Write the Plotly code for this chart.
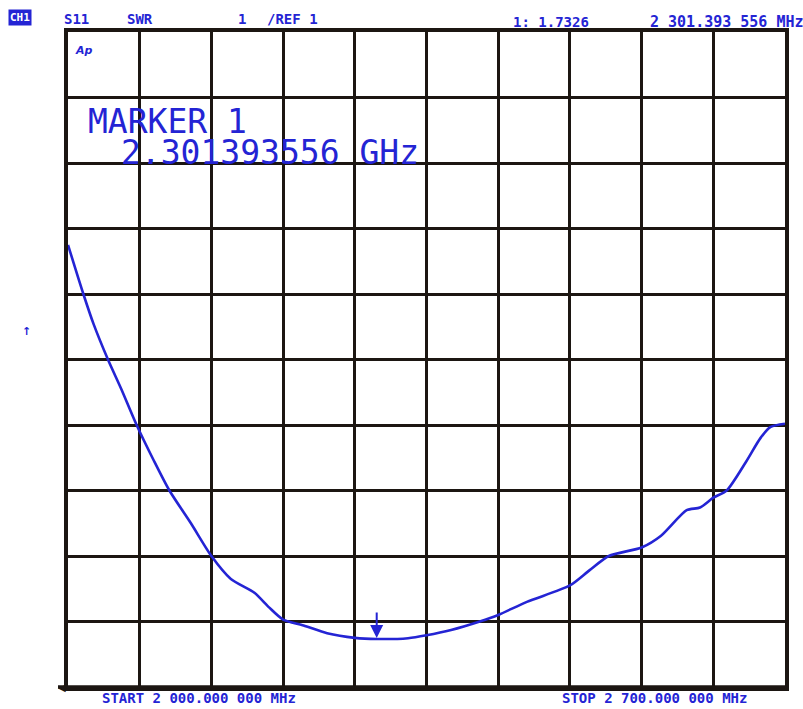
import plotly.graph_objects as go

# ---- data ----
freq_mhz = [2000, 2015, 2025, 2039, 2052, 2067, 2084, 2099, 2120, 2140, 2159,
            2182, 2196, 2210, 2230, 2253, 2280, 2301.393556, 2332, 2350, 2374, 2402,
            2420, 2448, 2490, 2509, 2528, 2560, 2579, 2604, 2617, 2630, 2643, 2662,
            2676, 2686, 2700]
swr = [7.75, 7.0, 6.54, 6.0, 5.55, 5.0, 4.45, 4.0, 3.5, 3.0, 2.65,
       2.44, 2.22, 2.03, 1.94, 1.82, 1.75, 1.7326, 1.745, 1.79, 1.87, 2.0,
       2.1, 2.3, 2.55, 2.78, 3.0, 3.13, 3.31, 3.7, 3.74, 3.89, 4.0, 4.44,
       4.8, 4.97, 5.02]

marker_freq = 2301.393556
marker_swr = 1.7326

start_mhz = 2000
stop_mhz = 2700
ref_swr = 1
scale_per_div = 1
n_div = 10

header_left = ["S11", "SWR", "1", "/REF 1"]
header_marker = "1: 1.7326"
header_freq = "2 301.393 556 MHz"
start_label = "START 2 000.000 000 MHz"
stop_label = "STOP 2 700.000 000 MHz"
marker_title = "MARKER 1"
marker_value = "2.301393556 GHz"

# ---- layout geometry ----
W, H = 803, 709
L, R, T, B = 68, 785, 32, 687
PW, PH = R - L, B - T

def px(xp):
    return (xp - L) / PW

def py(yp):
    return (B - yp) / PH

BLUE = "#2424d4"
GRID = "#1c1612"

fig = go.Figure()
fig.add_trace(go.Scatter(
    x=freq_mhz, y=swr, mode="lines",
    line=dict(color=BLUE, width=2.6, shape="spline", smoothing=0.7),
    hoverinfo="skip", showlegend=False))

ann = []
hdr_font = dict(family="DejaVu Sans Mono", size=14, color=BLUE)

# CH1 box
ann.append(dict(xref="paper", yref="paper", x=px(8), y=py(18), xanchor="left",
                yanchor="middle", text="<b>CH1</b>", showarrow=False,
                bgcolor=BLUE, font=dict(family="DejaVu Sans Mono", size=11, color="white"),
                borderpad=1))
for txt, xx in zip(header_left, [62, 125, 236, 265]):
    ann.append(dict(xref="paper", yref="paper", x=px(xx), y=py(19), xanchor="left",
                    yanchor="middle", text="<b>%s</b>" % txt, showarrow=False, font=hdr_font))
ann.append(dict(xref="paper", yref="paper", x=px(511), y=py(22), xanchor="left",
                yanchor="middle", text="<b>%s</b>" % header_marker, showarrow=False, font=hdr_font))
ann.append(dict(xref="paper", yref="paper", x=px(648), y=py(22), xanchor="left",
                yanchor="middle", text="<b>%s</b>" % header_freq, showarrow=False,
                font=dict(family="DejaVu Sans Mono", size=15, color=BLUE)))
ann.append(dict(xref="paper", yref="paper", x=px(73), y=py(50), xanchor="left",
                yanchor="middle", text="<b><i>Ap</i></b>", showarrow=False,
                font=dict(family="DejaVu Sans", size=11, color=BLUE)))
# left reference mark
ann.append(dict(xref="paper", yref="paper", x=px(26), y=py(331), xanchor="center",
                yanchor="middle", text="<b>↑</b>", showarrow=False,
                font=dict(family="DejaVu Sans", size=11, color=BLUE)))
# marker readout
big = dict(family="DejaVu Sans Mono", size=33, color=BLUE)
ann.append(dict(xref="paper", yref="paper", x=px(86), y=py(121), xanchor="left",
                yanchor="middle", text=marker_title, showarrow=False, font=big))
ann.append(dict(xref="paper", yref="paper", x=px(119), y=py(152), xanchor="left",
                yanchor="middle", text=marker_value, showarrow=False, font=big))
# footer
ann.append(dict(xref="paper", yref="paper", x=px(100), y=py(698), xanchor="left",
                yanchor="middle", text="<b>%s</b>" % start_label, showarrow=False, font=hdr_font))
ann.append(dict(xref="paper", yref="paper", x=px(560), y=py(698), xanchor="left",
                yanchor="middle", text="<b>%s</b>" % stop_label, showarrow=False, font=hdr_font))
# marker arrow
ann.append(dict(xref="x", yref="y", x=marker_freq, y=marker_swr, ax=0, ay=-28,
                text="", showarrow=True, arrowhead=2, arrowsize=1.3, arrowwidth=2,
                arrowcolor=BLUE, standoff=1))
# left arrow tip of bottom line
ann.append(dict(xref="paper", yref="paper", x=px(62), y=py(687), xanchor="center",
                yanchor="middle", text="◀", showarrow=False,
                font=dict(family="DejaVu Sans", size=10, color=GRID)))

shapes = [dict(type="line", xref="paper", yref="paper", x0=px(58), x1=1, y0=0, y1=0,
               line=dict(color=GRID, width=3.5))]

fig.update_layout(
    width=W, height=H,
    margin=dict(l=L, r=W - R, t=T, b=H - B, pad=0),
    paper_bgcolor="white", plot_bgcolor="white",
    annotations=ann, shapes=shapes, showlegend=False,
    xaxis=dict(range=[start_mhz, stop_mhz], dtick=(stop_mhz - start_mhz) / n_div,
               tick0=start_mhz, showgrid=True, gridcolor=GRID, gridwidth=3,
               showticklabels=False, ticks="", zeroline=False,
               showline=True, mirror=True, linecolor=GRID, linewidth=3.5),
    yaxis=dict(range=[ref_swr, ref_swr + scale_per_div * n_div], dtick=scale_per_div,
               tick0=ref_swr, showgrid=True, gridcolor=GRID, gridwidth=3,
               showticklabels=False, ticks="", zeroline=False,
               showline=True, mirror=True, linecolor=GRID, linewidth=3.5),
)

fig.write_html("out.html")
